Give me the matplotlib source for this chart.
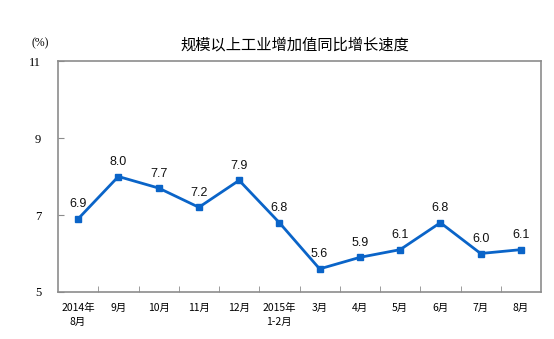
import numpy as np
import matplotlib.pyplot as plt
from matplotlib.ticker import FixedLocator

plt.rcParams['font.family'] = ['Noto Sans CJK SC', 'DejaVu Sans']

months = ['2014年\n8月', '9月', '10月', '11月', '12月', '2015年\n1-2月',
          '3月', '4月', '5月', '6月', '7月', '8月']
growth = [6.9, 8.0, 7.7, 7.2, 7.9, 6.8, 5.6, 5.9, 6.1, 6.8, 6.0, 6.1]
yticks = [5, 7, 9, 11]

blue = '#0a64c8'
frame = '#8c8c8c'

fig = plt.figure(figsize=(5.54, 3.39), dpi=100)
ax = fig.add_axes([58 / 554, 1 - 292 / 339, 483 / 554, 231 / 339])

x = np.arange(len(growth))
ax.plot(x, growth, color=blue, lw=2, marker='s', ms=5, mec=blue, mfc=blue)
for xi, v in zip(x, growth):
    ax.text(xi, v + 0.22, f'{v:.1f}', ha='center', va='bottom',
            fontsize=9, family='Liberation Sans', color='#111111')

ax.set_xlim(-0.5, len(growth) - 0.5)
ax.set_ylim(5, 11)
ax.set_yticks(yticks)
ax.set_yticklabels([str(t) for t in yticks], family='Liberation Serif', fontsize=9)
ax.set_xticks(x)
ax.set_xticklabels(months, fontsize=7.5, linespacing=1.5)
ax.xaxis.set_minor_locator(FixedLocator(np.arange(0.5, len(growth) - 1, 1)))
ax.tick_params(axis='x', which='major', length=0, pad=8)
ax.tick_params(axis='x', which='minor', direction='in', length=4, color=frame)
ax.tick_params(axis='y', direction='in', length=4, color=frame, pad=12)
for s in ax.spines.values():
    s.set_color(frame)
    s.set_linewidth(1.2)

fig.text(180 / 554, 1 - 45 / 339, '规模以上工业增加值同比增长速度', fontsize=11,
         va='center', ha='left')
fig.text(40 / 554, 1 - 43 / 339, '(%)', fontsize=8.5, family='Liberation Serif',
         ha='center', va='center')

fig.savefig('out.png', dpi=100)
